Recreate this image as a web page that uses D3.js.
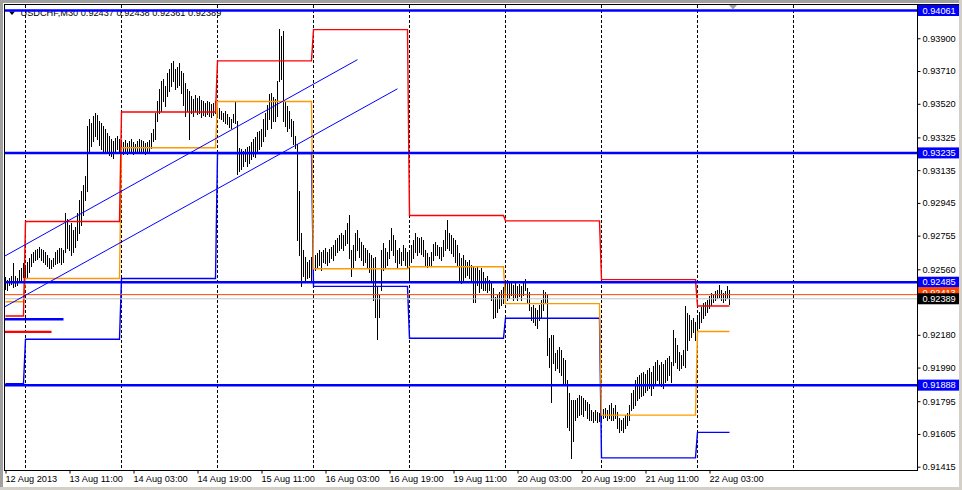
<!DOCTYPE html>
<html><head><meta charset="utf-8">
<script src="https://cdn.jsdelivr.net/npm/d3@7"></script>
<style>
html,body{margin:0;padding:0;background:#fff;}
svg{display:block;font-family:"Liberation Sans",Arial,sans-serif;}
</style></head><body>
<svg id="c" width="962" height="490"></svg>
<script>
// ---------------- DATA ----------------
const symbolTitle = "USDCHF,M30";
const lastOHLC = ["0.92437", "0.92438", "0.92361", "0.92389"];

const timeLabels = ["12 Aug 2013","13 Aug 11:00","14 Aug 03:00","14 Aug 19:00","15 Aug 11:00","16 Aug 03:00",
  "16 Aug 19:00","19 Aug 11:00","20 Aug 03:00","20 Aug 19:00","21 Aug 11:00","22 Aug 03:00"];
const timeLabelIdx = [0,32,64,96,128,160,192,224,256,288,320,352];
const daySeparatorIdx = [10,58,106,154,202,250,298,346,394];

const priceTicks = [0.93900,0.93710,0.93520,0.93325,0.93135,0.92945,0.92755,0.92560,0.92180,0.91990,0.91795,0.91605,0.91415];

// M30 bar highs / lows (bar 0 = 12 Aug 19:00)
const HIGH = [
0.92513,0.92496,0.92507,0.92519,0.92594,0.92519,0.92507,0.92553,0.92565,0.92594,
0.92577,0.92600,0.92623,0.92646,0.92658,0.92669,0.92675,0.92687,0.92675,0.92669,
0.92658,0.92640,0.92623,0.92611,0.92623,0.92658,0.92669,0.92681,0.92681,0.92669,
0.92889,0.92854,0.92814,0.92831,0.92785,0.92808,0.92889,0.92959,0.93016,0.93051,
0.93103,0.93393,0.93433,0.93410,0.93450,0.93468,0.93456,0.93422,0.93410,0.93393,
0.93375,0.93352,0.93335,0.93318,0.93306,0.93323,0.93335,0.93318,0.93306,0.93300,
0.93312,0.93294,0.93306,0.93318,0.93300,0.93288,0.93306,0.93318,0.93312,0.93306,
0.93294,0.93300,0.93312,0.93352,0.93375,0.93468,0.93537,0.93607,0.93653,0.93665,
0.93624,0.93699,0.93722,0.93757,0.93769,0.93722,0.93734,0.93757,0.93711,0.93699,
0.93641,0.93607,0.93595,0.93566,0.93549,0.93572,0.93554,0.93566,0.93543,0.93537,
0.93526,0.93537,0.93531,0.93520,0.93526,0.93537,0.93508,0.93497,0.93479,0.93468,
0.93479,0.93462,0.93445,0.93433,0.93462,0.93537,0.93422,0.93265,0.93260,0.93248,
0.93260,0.93271,0.93277,0.93300,0.93318,0.93329,0.93358,0.93364,0.93375,0.93433,
0.93468,0.93514,0.93578,0.93584,0.93561,0.93549,0.93653,0.93954,0.93913,0.93942,
0.93537,0.93508,0.93479,0.93433,0.93422,0.93335,0.93289,0.93016,0.92773,0.92669,
0.92634,0.92600,0.92611,0.92634,0.92669,0.92640,0.92652,0.92669,0.92658,0.92669,
0.92681,0.92658,0.92675,0.92692,0.92698,0.92727,0.92744,0.92756,0.92768,0.92756,
0.92785,0.92831,0.92872,0.92669,0.92698,0.92773,0.92785,0.92739,0.92716,0.92698,
0.92681,0.92669,0.92652,0.92640,0.92623,0.92629,0.92455,0.92409,0.92669,0.92710,
0.92681,0.92658,0.92727,0.92797,0.92756,0.92727,0.92669,0.92681,0.92658,0.92698,
0.92681,0.92658,0.92669,0.92698,0.92727,0.92773,0.92750,0.92739,0.92750,0.92727,
0.92669,0.92652,0.92629,0.92658,0.92704,0.92716,0.92698,0.92692,0.92687,0.92727,
0.92785,0.92843,0.92773,0.92756,0.92739,0.92727,0.92698,0.92652,0.92623,0.92640,
0.92611,0.92600,0.92611,0.92582,0.92577,0.92565,0.92571,0.92553,0.92565,0.92542,
0.92507,0.92519,0.92496,0.92484,0.92449,0.92397,0.92409,0.92426,0.92438,0.92455,
0.92484,0.92496,0.92478,0.92484,0.92467,0.92478,0.92461,0.92473,0.92461,0.92478,
0.92501,0.92449,0.92426,0.92339,0.92351,0.92334,0.92322,0.92351,0.92380,0.92438,
0.92426,0.92409,0.92160,0.92177,0.92177,0.92074,0.92091,0.92108,0.92091,0.92044,
0.92033,0.91917,0.91842,0.91801,0.91801,0.91801,0.91813,0.91830,0.91824,0.91813,
0.91801,0.91790,0.91778,0.91743,0.91732,0.91743,0.91732,0.91726,0.91743,0.91749,
0.91755,0.91743,0.91772,0.91784,0.91755,0.91772,0.91732,0.91697,0.91685,0.91697,
0.91714,0.91726,0.91772,0.91842,0.91859,0.91917,0.91934,0.91946,0.91957,0.91963,
0.91952,0.91975,0.91986,0.91963,0.91998,0.92021,0.92033,0.92004,0.92021,0.92010,
0.92033,0.92044,0.92056,0.92021,0.92206,0.92160,0.92120,0.92079,0.92062,0.92091,
0.92348,0.92305,0.92293,0.92264,0.92276,0.92253,0.92293,0.92310,0.92339,0.92363,
0.92368,0.92380,0.92403,0.92420,0.92414,0.92432,0.92438,0.92467,0.92438,0.92420,
0.92432,0.92461,0.92438];
const LOW = [
0.92444,0.92438,0.92467,0.92473,0.92455,0.92461,0.92467,0.92484,0.92496,0.92513,
0.92507,0.92513,0.92542,0.92577,0.92600,0.92611,0.92617,0.92629,0.92611,0.92600,
0.92588,0.92577,0.92565,0.92565,0.92577,0.92588,0.92594,0.92600,0.92588,0.92600,
0.92658,0.92681,0.92669,0.92640,0.92658,0.92692,0.92727,0.92773,0.92814,0.92872,
0.92959,0.93016,0.93248,0.93277,0.93306,0.93335,0.93318,0.93283,0.93260,0.93248,
0.93248,0.93236,0.93225,0.93219,0.93207,0.93248,0.93260,0.93248,0.93236,0.93231,
0.93236,0.93231,0.93248,0.93248,0.93231,0.93236,0.93242,0.93248,0.93236,0.93236,
0.93231,0.93242,0.93248,0.93265,0.93306,0.93318,0.93422,0.93468,0.93479,0.93537,
0.93508,0.93566,0.93595,0.93624,0.93653,0.93607,0.93618,0.93630,0.93584,0.93514,
0.93450,0.93479,0.93318,0.93468,0.93450,0.93479,0.93462,0.93468,0.93445,0.93456,
0.93450,0.93462,0.93450,0.93445,0.93456,0.93468,0.93450,0.93439,0.93433,0.93422,
0.93410,0.93404,0.93387,0.93381,0.93416,0.93410,0.93115,0.93132,0.93144,0.93161,
0.93190,0.93161,0.93178,0.93202,0.93219,0.93213,0.93248,0.93260,0.93277,0.93306,
0.93335,0.93375,0.93433,0.93381,0.93422,0.93422,0.93450,0.93653,0.93665,0.93422,
0.93393,0.93364,0.93381,0.93335,0.93289,0.93265,0.92727,0.92640,0.92461,0.92519,
0.92496,0.92507,0.92513,0.92496,0.92565,0.92553,0.92565,0.92582,0.92553,0.92600,
0.92594,0.92582,0.92600,0.92623,0.92611,0.92640,0.92658,0.92669,0.92681,0.92669,
0.92698,0.92710,0.92623,0.92519,0.92565,0.92611,0.92669,0.92629,0.92611,0.92582,
0.92600,0.92565,0.92542,0.92496,0.92380,0.92282,0.92154,0.92282,0.92438,0.92553,
0.92565,0.92582,0.92623,0.92669,0.92640,0.92600,0.92565,0.92594,0.92582,0.92611,
0.92582,0.92565,0.92484,0.92600,0.92623,0.92658,0.92640,0.92658,0.92646,0.92635,
0.92577,0.92571,0.92582,0.92582,0.92611,0.92640,0.92640,0.92623,0.92611,0.92635,
0.92669,0.92681,0.92669,0.92652,0.92635,0.92600,0.92582,0.92496,0.92478,0.92496,
0.92513,0.92525,0.92507,0.92496,0.92368,0.92368,0.92467,0.92426,0.92449,0.92438,
0.92438,0.92426,0.92438,0.92380,0.92276,0.92282,0.92310,0.92334,0.92351,0.92363,
0.92391,0.92380,0.92391,0.92409,0.92380,0.92397,0.92380,0.92403,0.92380,0.92409,
0.92438,0.92363,0.92322,0.92264,0.92252,0.92235,0.92218,0.92264,0.92276,0.92322,
0.92368,0.92062,0.91992,0.91789,0.92015,0.91975,0.91986,0.91963,0.91946,0.91899,
0.91888,0.91645,0.91628,0.91466,0.91564,0.91685,0.91703,0.91714,0.91720,0.91708,
0.91743,0.91697,0.91685,0.91685,0.91674,0.91685,0.91674,0.91679,0.91685,0.91697,
0.91703,0.91685,0.91697,0.91685,0.91685,0.91697,0.91639,0.91616,0.91628,0.91616,
0.91639,0.91656,0.91685,0.91743,0.91755,0.91772,0.91801,0.91813,0.91824,0.91830,
0.91847,0.91859,0.91871,0.91830,0.91871,0.91888,0.91917,0.91888,0.91882,0.91871,
0.91905,0.91917,0.91946,0.91905,0.92004,0.92021,0.91986,0.91975,0.91986,0.92004,
0.91992,0.92091,0.92148,0.92166,0.92195,0.92148,0.92177,0.92218,0.92252,0.92276,
0.92293,0.92310,0.92334,0.92351,0.92368,0.92380,0.92391,0.92397,0.92380,0.92368,
0.92380,0.92391,0.92361];

// daily levels indicator (previous day high / close / low)
const dayStart  = [0, 10, 58, 106, 154, 202, 250, 298, 346];
const dayEnd    = [9, 57, 105, 153, 201, 249, 297, 345, 362];
const prevHigh  = [0.92289,0.92837,0.93472,0.93769,0.93950,0.92872,0.92841,0.92500,0.92347];
const prevClose = [0.92372,0.92507,0.93265,0.93533,0.92563,0.92575,0.92361,0.91714,0.92199];
const prevLow   = [0.91897,0.92154,0.92507,0.93231,0.92461,0.92160,0.92276,0.91466,0.91614];

// horizontal objects
const levelLines = [0.94061, 0.93235, 0.92485, 0.91888];
const askLevel = 0.92413;
const bidLevel = 0.92389;
const shortLevelValues = [0.92270, 0.92197];
const shortLevelEnd = [29, 23];

// trend channel (bar index, price)
const trendStartIdx = [0, 0];
const trendStartPrice = [0.92639, 0.92345];
const trendEndIdx = [176, 196];
const trendEndPrice = [0.93776, 0.93607];

// ---------------- DRAW ----------------
const svg = d3.select("#c");
const L = 5, R = 917, T = 5, B = 470;

const x = d3.scaleLinear().domain([0, 362]).range([5.5, 729.5]);
const y = d3.scaleLinear().domain([0.91415, 0.94061]).range([466.7, 10.5]);

// window borders
svg.append("rect").attr("x",0).attr("y",0).attr("width",962).attr("height",490).attr("fill","#fff");
svg.append("rect").attr("x",0).attr("y",0).attr("width",962).attr("height",3).attr("fill","#a0a0a0");
svg.append("rect").attr("x",0).attr("y",0).attr("width",3).attr("height",490).attr("fill","#a0a0a0");
svg.append("rect").attr("x",0).attr("y",487).attr("width",962).attr("height",3).attr("fill","#d4d0c8");
svg.append("rect").attr("x",959).attr("y",0).attr("width",3).attr("height",490).attr("fill","#d4d0c8");

svg.append("defs").append("clipPath").attr("id","plot")
  .append("rect").attr("x",L).attr("y",T).attr("width",R-L).attr("height",B-T);
const plot = svg.append("g").attr("clip-path","url(#plot)");

// period separators
plot.selectAll("line.sep").data(daySeparatorIdx).enter().append("line")
  .attr("x1",d=>x(d)).attr("x2",d=>x(d)).attr("y1",T).attr("y2",B)
  .attr("stroke","#000").attr("stroke-width",1).attr("stroke-dasharray","3,2");

// title
svg.append("polygon").attr("points","9,11.5 15,11.5 12,15").attr("fill","#000");
svg.append("text").attr("x",20.5).attr("y",15.5).attr("font-size",9.2).attr("fill","#000")
  .text(symbolTitle + "  " + lastOHLC.join(" "));

// bars
plot.selectAll("rect.bar").data(HIGH).enter().append("rect")
  .attr("x",(d,i)=>Math.floor(x(i))).attr("width",1)
  .attr("y",(d,i)=>Math.round(y(HIGH[i])))
  .attr("height",(d,i)=>Math.max(1,Math.round(y(LOW[i]))-Math.round(y(HIGH[i]))+1))
  .attr("fill","#000").attr("shape-rendering","crispEdges");

// daily level step lines
function stepPts(vals){
  const pts=[];
  dayStart.forEach((s,k)=>{ pts.push([x(s),y(vals[k])]); pts.push([x(dayEnd[k]),y(vals[k])]); });
  return pts;
}
const ln = d3.line();
[[prevLow,"#0000ff"],[prevClose,"#ff9900"],[prevHigh,"#ff0000"]].forEach(([v,c])=>{
  plot.append("path").attr("d",ln(stepPts(v))).attr("fill","none").attr("stroke",c).attr("stroke-width",1.4);
});

// ask / bid lines
plot.append("line").attr("x1",L).attr("x2",R).attr("y1",y(askLevel)).attr("y2",y(askLevel))
  .attr("stroke","#ff4500").attr("stroke-width",1);
plot.append("line").attr("x1",L).attr("x2",R).attr("y1",y(bidLevel)).attr("y2",y(bidLevel))
  .attr("stroke","#c0c0c0").attr("stroke-width",1);

// short thick levels at left
shortLevelValues.forEach((v,k)=>{
  plot.append("line").attr("x1",L).attr("x2",x(shortLevelEnd[k])).attr("y1",y(v)).attr("y2",y(v))
    .attr("stroke",k===0?"#0000ff":"#ff0000").attr("stroke-width",2.4);
});

// trend lines
trendStartIdx.forEach((s,k)=>{
  const slope=(trendEndPrice[k]-trendStartPrice[k])/(trendEndIdx[k]-s);
  plot.append("line").attr("x1",x(s-1)).attr("y1",y(trendStartPrice[k]-slope))
    .attr("x2",x(trendEndIdx[k])).attr("y2",y(trendEndPrice[k]))
    .attr("stroke","#0000ff").attr("stroke-width",1);
});

// horizontal level lines
svg.selectAll("line.lvl").data(levelLines).enter().append("line")
  .attr("x1",L).attr("x2",R).attr("y1",d=>y(d)).attr("y2",d=>y(d))
  .attr("stroke","#0000ff").attr("stroke-width",2.5);

// chart shift marker
svg.append("polygon").attr("points","729,5 737,5 733,9.5").attr("fill","#a0a0a0");

// frame
svg.append("line").attr("x1",4).attr("x2",959).attr("y1",4.5).attr("y2",4.5).attr("stroke","#000");
svg.append("line").attr("x1",4.5).attr("x2",4.5).attr("y1",4).attr("y2",471).attr("stroke","#000");
svg.append("line").attr("x1",R+0.5).attr("x2",R+0.5).attr("y1",4).attr("y2",471).attr("stroke","#000");
svg.append("line").attr("x1",4).attr("x2",R+1).attr("y1",B+0.5).attr("y2",B+0.5).attr("stroke","#000");

// right price axis
const ya = svg.append("g").attr("transform",`translate(${R+0.5},0)`)
  .call(d3.axisRight(y).tickValues(priceTicks).tickSize(3).tickPadding(2).tickFormat(d3.format(".5f")));
ya.select(".domain").remove();
ya.selectAll("text").attr("font-size",9.2).attr("font-family","Liberation Sans, Arial, sans-serif").attr("fill","#000");
ya.selectAll("line").attr("stroke","#000");

// bottom time axis
const xa = svg.append("g").attr("transform",`translate(0,${B+0.5})`)
  .call(d3.axisBottom(x).tickValues(timeLabelIdx).tickSize(3).tickPadding(2).tickFormat((d,i)=>timeLabels[i]));
xa.select(".domain").remove();
xa.selectAll("text").attr("text-anchor","start").attr("dx",-0.5).attr("font-size",9.2)
  .attr("font-family","Liberation Sans, Arial, sans-serif").attr("fill","#000");
xa.selectAll("line").attr("stroke","#000");

// price labels on axis
function priceLabel(v, bg, dyShift){
  const g = svg.append("g");
  const cy = y(v) + dyShift;
  g.append("rect").attr("x",918).attr("y",cy-5.5).attr("width",41).attr("height",11).attr("fill",bg);
  g.append("text").attr("x",922.5).attr("y",cy).attr("dy","0.34em").attr("font-size",9.2)
    .attr("fill","#fff").text(d3.format(".5f")(v));
}
levelLines.forEach(v=>priceLabel(v,"#0000ff",0));
priceLabel(askLevel,"#ff4500",-2);
priceLabel(bidLevel,"#000000",0);
</script>
</body></html>
